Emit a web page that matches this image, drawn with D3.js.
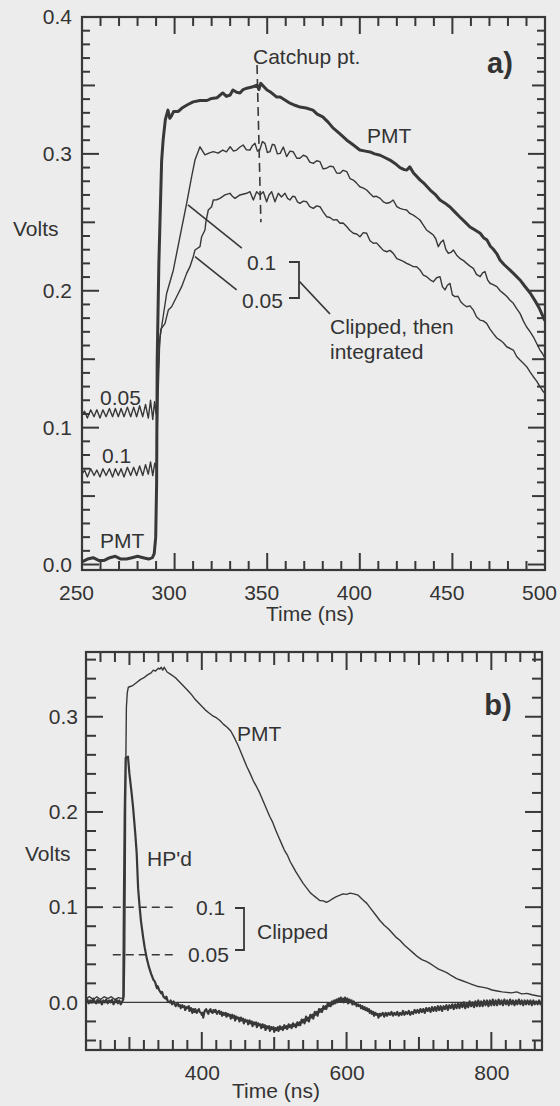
<!DOCTYPE html>
<html>
<head>
<meta charset="utf-8">
<script src="https://cdn.jsdelivr.net/npm/d3@7"></script>
<style>
  body { margin: 0; background: #ececec; }
  text { font-family: "Liberation Sans", Arial, Helvetica, sans-serif; fill: #333; }
</style>
</head>
<body>
<div id="wrapper"></div>
<script>
// panel a) : time (ns), volts
const pmtA = [[250,0.002],[253,0.004],[256,0.005],[259,0.003],[262,0.003],[265,0.005],[268,0.006],[271,0.004],[274,0.004],[277,0.005],[280,0.006],[283,0.005],[286,0.004],[288,0.005],[289,0.008],[289.8,0.02],[290.3,0.06],[290.6,0.149],[291.5,0.22],[293,0.295],[293.8,0.31],[295,0.325],[296.4,0.332],[297.4,0.326],[298.4,0.328],[299.5,0.331],[302,0.331],[304,0.3335],[306.7,0.3357],[310,0.338],[313.7,0.339],[317.5,0.339],[320,0.3405],[322.9,0.341],[326,0.3445],[328,0.342],[330,0.343],[331.5,0.3467],[333.5,0.345],[335.3,0.3445],[337,0.347],[339,0.348],[342.3,0.349],[344.5,0.3503],[345.5,0.347],[346.5,0.3515],[349.9,0.3467],[352,0.345],[355,0.3416],[357,0.3416],[360,0.339],[362.3,0.337],[365,0.3355],[367.7,0.3342],[371,0.3335],[374.7,0.332],[377,0.329],[380,0.327],[383,0.323],[385.5,0.319],[389,0.315],[393,0.31],[396,0.307],[400,0.3028],[403,0.302],[405.5,0.3014],[408,0.30],[411,0.299],[414,0.297],[416.3,0.2955],[419,0.293],[421.7,0.29],[424,0.2885],[425.4,0.2882],[427,0.2905],[429,0.286],[432.5,0.281],[435,0.278],[438,0.2736],[441,0.27],[443.3,0.2663],[446,0.264],[448.7,0.2612],[451,0.258],[454,0.2539],[457,0.25],[459.5,0.2466],[462,0.2445],[465,0.242],[467,0.2385],[468.7,0.237],[470.5,0.2325],[472,0.2305],[474,0.227],[475.7,0.2225],[478,0.219],[481,0.2152],[483.5,0.212],[486.5,0.2079],[489,0.2035],[492,0.1984],[494.5,0.193],[497,0.187],[500,0.178]]

const clip10A = [[250,0.066],[251.4,0.069],[252.9,0.064],[254.7,0.07],[256.5,0.065],[258,0.069],[259.7,0.064],[261.3,0.07],[263,0.065],[264.8,0.07],[266.5,0.064],[268,0.07],[269.6,0.065],[271.1,0.07],[272.7,0.064],[274.5,0.071],[276.3,0.065],[277.9,0.071],[279.5,0.065],[281.1,0.072],[282.8,0.065],[284.3,0.073],[285.8,0.066],[287,0.075],[288.2,0.065],[289.3,0.074],[290.2,0.07],[291,0.12],[292,0.165],[293,0.1737],[295.7,0.198],[299.3,0.215],[302.9,0.2395],[306.5,0.2639],[309.2,0.2833],[311,0.2955],[313.7,0.3052],[316.4,0.2992],[318.5,0.3005],[320.9,0.3016],[323.5,0.3005],[326,0.3028],[328,0.3015],[330,0.3052],[331.8,0.302],[333.5,0.3028],[335.3,0.305],[337,0.3065],[338.8,0.303],[340.7,0.3028],[342,0.306],[343.4,0.3077],[344.7,0.302],[346,0.3028],[347.4,0.309],[348.8,0.3077],[350.1,0.301],[351.5,0.3016],[352.8,0.307],[354,0.3065],[355.5,0.3],[357,0.3004],[358.7,0.305],[360.5,0.298],[362.3,0.302],[364,0.3016],[366,0.2968],[367.7,0.2968],[369.5,0.299],[371.3,0.298],[373,0.294],[374.9,0.2931],[376.7,0.295],[378.5,0.2943],[380.2,0.289],[382,0.2895],[384,0.291],[385.7,0.2906],[387.5,0.286],[389.3,0.2858],[391,0.288],[393,0.287],[394.7,0.282],[396.5,0.2809],[398,0.279],[400,0.276],[402,0.275],[403.7,0.2736],[405.5,0.271],[407.3,0.2687],[409,0.269],[411,0.2675],[412.7,0.265],[414.5,0.2639],[416.3,0.2645],[418,0.2663],[420,0.2615],[421.7,0.2602],[423.5,0.2595],[425.3,0.259],[427,0.2565],[428.9,0.2553],[430.7,0.2535],[432.5,0.2517],[434.3,0.248],[436,0.2444],[438,0.2425],[439.7,0.2407],[441,0.238],[442.4,0.2322],[443.8,0.2355],[445.1,0.237],[446.5,0.23],[447.8,0.2274],[449.2,0.228],[450.5,0.2298],[452.3,0.226],[454,0.2237],[456,0.222],[457.7,0.22],[459.5,0.218],[461.3,0.2164],[463,0.212],[465,0.2103],[466.3,0.213],[467.6,0.214],[469,0.208],[470.3,0.2055],[472,0.2045],[474,0.203],[475.8,0.2],[477.5,0.1981],[479.3,0.196],[481,0.1933],[482.9,0.1908],[484.7,0.187],[486.5,0.1835],[488.3,0.178],[490,0.1737],[492,0.17],[493.7,0.1664],[495.5,0.1615],[497.3,0.1567],[498.7,0.154],[500,0.1506]]

const clip05A = [[250,0.109],[251.4,0.112],[252.9,0.107],[254.7,0.113],[256.5,0.108],[258,0.113],[259.7,0.107],[261.3,0.113],[263,0.108],[264.8,0.114],[266.5,0.108],[268,0.114],[269.6,0.108],[271.1,0.114],[272.7,0.108],[274.5,0.115],[276.3,0.108],[277.9,0.115],[279.5,0.108],[281.1,0.116],[282.8,0.108],[284.3,0.117],[285.8,0.107],[287,0.12],[288.2,0.106],[289.2,0.119],[290,0.11],[290.8,0.13],[291.8,0.16],[292.6,0.172],[294.8,0.176],[296.6,0.1859],[298.4,0.1883],[301.1,0.1956],[303.8,0.203],[306.5,0.2127],[308.3,0.2176],[310.1,0.225],[311,0.2298],[313.7,0.2322],[314.6,0.2395],[316.4,0.2444],[316.9,0.2504],[318.2,0.259],[320,0.2614],[320.9,0.2663],[322.7,0.2665],[324.5,0.2675],[327.2,0.27],[329.9,0.2712],[331.2,0.269],[332.6,0.2675],[335.3,0.27],[338.9,0.2712],[340.7,0.2724],[342.5,0.2663],[344.3,0.2724],[346.1,0.27],[347.9,0.2724],[349.7,0.265],[351,0.27],[352.4,0.2724],[354.2,0.265],[356,0.2712],[357.7,0.2685],[359.6,0.2712],[361,0.2675],[362.3,0.2663],[363.7,0.269],[365,0.2687],[366.3,0.265],[367.7,0.2639],[369.5,0.2655],[371.3,0.265],[373,0.2615],[374.9,0.2602],[376.7,0.262],[378.5,0.2614],[380.3,0.2575],[382.1,0.2541],[383.9,0.2535],[385.7,0.2517],[387.5,0.252],[389.3,0.2493],[391,0.2495],[393,0.2468],[394.7,0.244],[396.5,0.242],[398.3,0.2415],[400.1,0.2395],[401.9,0.2425],[403.7,0.242],[405.5,0.2365],[407.3,0.2347],[409,0.235],[410.9,0.2322],[412.7,0.2295],[414.5,0.2285],[416.3,0.2295],[418.1,0.2273],[420,0.2235],[421.7,0.2225],[423.5,0.2215],[425.3,0.22],[427,0.219],[428.9,0.2176],[430.7,0.2175],[432.5,0.2152],[434.3,0.2115],[436.1,0.2103],[438,0.208],[439.7,0.2066],[441.5,0.2095],[443.3,0.2103],[444.6,0.203],[446,0.2006],[447.3,0.204],[448.7,0.2054],[450,0.197],[451.4,0.1957],[453,0.196],[454.5,0.192],[456,0.19],[457.7,0.1883],[459.5,0.189],[461.3,0.1859],[463,0.181],[464.9,0.1786],[466.7,0.178],[468.5,0.1762],[470.3,0.172],[472,0.1689],[474,0.1655],[475.7,0.164],[477.5,0.162],[479.3,0.1591],[481,0.158],[482.9,0.1567],[484.7,0.152],[486.5,0.1494],[488.3,0.147],[490.1,0.1445],[492,0.1405],[493.7,0.1372],[495.5,0.134],[497.3,0.1299],[498.7,0.127],[500,0.125]]

// catchup marker (time, volts)
const catchupA = [[344.5,0.365],[346.6,0.25]]

// panel b)
const pmtB = [[240,0.004],[245,0.006],[250,0.003],[255,0.006],[260,0.003],[265,0.006],[270,0.004],[275,0.006],[280,0.003],[285,0.005],[290,0.004],[292.5,0.006],[293.5,0.05],[294.3,0.15],[295,0.25],[295.8,0.31],[297,0.325],[298.5,0.331],[302,0.332],[305,0.333],[310,0.336],[315,0.339],[320,0.341],[325,0.344],[330,0.346],[333,0.349],[336,0.348],[340,0.351],[342,0.35],[344,0.352],[346,0.349],[348,0.352],[352,0.347],[356,0.345],[360,0.343],[365,0.34],[370,0.336],[375,0.332],[380,0.328],[385,0.324],[390,0.319],[395,0.315],[400,0.311],[405,0.307],[410,0.304],[415,0.301],[420,0.299],[425,0.296],[430,0.292],[435,0.289],[440,0.285],[445,0.278],[450,0.27],[456,0.259],[462,0.248],[467,0.24],[471,0.233],[476,0.226],[480,0.22],[485,0.211],[490,0.202],[494,0.195],[498,0.189],[502,0.181],[506,0.174],[510,0.167],[514,0.16],[518,0.155],[522,0.148],[526,0.1425],[530,0.137],[535,0.131],[540,0.125],[545,0.12],[550,0.115],[554,0.1126],[558,0.11],[563,0.107],[568,0.1066],[572,0.105],[577,0.107],[581,0.109],[586,0.111],[591,0.1126],[595,0.114],[600,0.1135],[605,0.1147],[610,0.114],[616,0.1126],[622,0.108],[628,0.104],[634,0.098],[640,0.092],[646,0.086],[652,0.081],[658,0.077],[664,0.072],[669,0.068],[674,0.065],[680,0.06],[686,0.056],[692,0.052],[698,0.048],[704,0.045],[710,0.043],[715,0.041],[721,0.038],[727,0.035],[733,0.033],[739,0.031],[745,0.028],[752,0.025],[759,0.023],[766,0.021],[773,0.019],[780,0.017],[787,0.016],[794,0.015],[801,0.013],[808,0.012],[815,0.011],[821,0.0105],[828,0.01],[835,0.011],[842,0.009],[849,0.0095],[856,0.008],[863,0.007],[870,0.006]]

const hpdB = [[240,0.001],[242,0.003],[244,-0.001],[246,0.002],[248,0.0],[250,0.004],[252,0.001],[254,-0.001],[256,0.003],[258,0.0],[260,0.002],[262,-0.002],[264,0.002],[266,0.0],[268,0.003],[270,-0.001],[272,0.002],[274,0.0],[276,0.003],[278,-0.002],[280,0.001],[282,0.003],[284,-0.001],[286,0.002],[288,-0.002],[290,0.001],[291.5,0.003],[292.3,0.1],[293.5,0.2],[294.8,0.257],[298,0.258],[300,0.24],[303,0.22],[305,0.205],[308,0.178],[310,0.157],[312,0.12],[314,0.101],[316,0.085],[319,0.068],[321,0.058],[324,0.046],[327,0.037],[330,0.03],[332,0.026],[333,0.024],[335,0.022],[336,0.02],[338,0.015],[339,0.017],[341,0.013],[344,0.0095],[345,0.011],[347,0.006],[350,0.004],[351,0.006],[353,0.001],[356,0.0],[357,0.002],[359,-0.002],[361,0.001],[362,-0.001],[364,-0.004],[365,-0.002],[367,-0.001],[368,-0.004],[370,-0.003],[371,-0.006],[373,-0.003],[374,-0.005],[376,-0.004],[377,-0.008],[379,-0.005],[380,-0.006],[382,-0.004],[383,-0.009],[385,-0.006],[386,-0.008],[387,-0.011],[388,-0.007],[390,-0.01],[391,-0.007],[393,-0.011],[394,-0.009],[396,-0.007],[397,-0.01],[399,-0.011],[400,-0.013],[401,-0.011],[402,-0.016],[403,-0.012],[404,-0.009],[406,-0.007],[407,-0.009],[409,-0.012],[410,-0.009],[412,-0.007],[413,-0.01],[415,-0.011],[416,-0.008],[418,-0.01],[419,-0.008],[421,-0.012],[422,-0.01],[424,-0.009],[425,-0.012],[427,-0.01],[428,-0.014],[430,-0.011],[431,-0.013],[433,-0.011],[434,-0.015],[436,-0.012],[437,-0.014],[439,-0.013],[440,-0.017],[442,-0.013],[443,-0.016],[445,-0.014],[446,-0.019],[448,-0.015],[449,-0.017],[451,-0.016],[452,-0.02],[454,-0.016],[455,-0.019],[457,-0.017],[458,-0.022],[460,-0.018],[461,-0.02],[463,-0.019],[464,-0.023],[466,-0.019],[467,-0.022],[469,-0.02],[470,-0.025],[472,-0.021],[473,-0.023],[475,-0.021],[476,-0.026],[478,-0.022],[479,-0.024],[481,-0.023],[482,-0.027],[484,-0.023],[485,-0.026],[487,-0.024],[488,-0.029],[490,-0.025],[491,-0.027],[493,-0.025],[494,-0.03],[496,-0.026],[497,-0.028],[499,-0.026],[500,-0.031],[502,-0.027],[503,-0.029],[505,-0.026],[506,-0.03],[508,-0.025],[509,-0.028],[511,-0.026],[512,-0.029],[514,-0.024],[515,-0.027],[517,-0.025],[518,-0.028],[520,-0.023],[521,-0.026],[523,-0.024],[524,-0.027],[526,-0.022],[527,-0.025],[529,-0.023],[530,-0.026],[532,-0.021],[533,-0.024],[535,-0.021],[536,-0.024],[538,-0.018],[539,-0.021],[541,-0.018],[542,-0.022],[544,-0.015],[545,-0.019],[547,-0.016],[548,-0.02],[550,-0.013],[551,-0.016],[553,-0.013],[554,-0.017],[556,-0.01],[557,-0.013],[559,-0.01],[560,-0.014],[562,-0.007],[563,-0.01],[565,-0.007],[566,-0.01],[568,-0.004],[569,-0.007],[571,-0.004],[572,-0.007],[574,-0.001],[575,-0.004],[577,-0.001],[578,-0.004],[580,0.001],[581,-0.002],[583,0.002],[584,-0.001],[586,0.003],[587,0.0],[589,0.004],[590,0.001],[592,0.005],[593,0.001],[595,0.004],[596,0.0],[598,0.005],[599,0.001],[601,0.004],[602,-0.001],[604,0.003],[605,0.0],[607,0.002],[608,-0.002],[610,0.001],[611,-0.002],[613,-0.001],[614,-0.004],[616,-0.002],[617,-0.004],[619,-0.003],[620,-0.006],[622,-0.004],[623,-0.007],[625,-0.005],[626,-0.008],[628,-0.006],[629,-0.009],[631,-0.007],[632,-0.011],[634,-0.009],[635,-0.012],[637,-0.01],[638,-0.014],[640,-0.011],[641,-0.013],[643,-0.012],[644,-0.016],[646,-0.012],[647,-0.014],[650,-0.011],[652,-0.015],[654,-0.011],[656,-0.014],[658,-0.011],[660,-0.013],[662,-0.01],[664,-0.014],[666,-0.011],[668,-0.013],[670,-0.01],[672,-0.014],[674,-0.011],[676,-0.013],[678,-0.009],[680,-0.013],[682,-0.01],[684,-0.012],[686,-0.009],[688,-0.013],[690,-0.01],[692,-0.012],[694,-0.008],[696,-0.011],[698,-0.008],[700,-0.011],[702,-0.007],[704,-0.01],[706,-0.007],[708,-0.011],[710,-0.006],[712,-0.009],[714,-0.006],[716,-0.01],[718,-0.005],[720,-0.009],[722,-0.005],[724,-0.009],[726,-0.004],[728,-0.008],[730,-0.004],[732,-0.009],[734,-0.004],[736,-0.007],[738,-0.003],[740,-0.008],[742,-0.003],[744,-0.006],[746,-0.002],[748,-0.007],[750,-0.002],[752,-0.006],[754,-0.001],[756,-0.006],[758,-0.001],[760,-0.005],[762,0.0],[764,-0.006],[766,-0.001],[768,-0.005],[770,0.001],[772,-0.004],[774,0.0],[776,-0.005],[778,0.001],[780,-0.004],[782,0.002],[784,-0.004],[786,0.001],[788,-0.004],[790,0.002],[792,-0.003],[794,0.002],[796,-0.004],[798,0.002],[800,-0.003],[802,0.003],[804,-0.003],[806,0.002],[808,-0.003],[810,0.003],[812,-0.002],[814,0.002],[816,-0.003],[818,0.003],[820,-0.002],[822,0.002],[824,-0.003],[826,0.003],[828,-0.002],[830,0.002],[832,-0.003],[834,0.002],[836,-0.002],[838,0.003],[840,-0.002],[842,0.002],[844,-0.003],[846,0.002],[848,-0.002],[850,0.002],[852,-0.002],[854,0.002],[856,-0.003],[858,0.002],[860,-0.002],[862,0.001],[864,-0.002],[866,0.002],[868,-0.002],[870,0.0]]

const clipLevelsB = [0.1, 0.05]
const clipLabelsB = ['0.1', '0.05']

const aXLabels = [250, 300, 350, 400, 450, 500]
const aYLabels = [0, 0.1, 0.2, 0.3, 0.4]
const bXLabels = [400, 600, 800]
const bYLabels = [0, 0.1, 0.2, 0.3]

const ink = '#383838'

const width = 560
const height = 1106

const svg = d3.select('#wrapper')
  .append('svg')
    .attr('width', width)
    .attr('height', height)

svg.append('rect')
  .attr('width', width)
  .attr('height', height)
  .attr('fill', '#ececec')

//dimensions for the two panels
const dimA = {left: 82, top: 17, width: 463, height: 553}
const dimB = {left: 86, top: 652, width: 456, height: 398}

const xA = d3.scaleLinear().domain([250, 500]).range([0, dimA.width])
const yA = d3.scaleLinear().domain([-0.004, 0.4]).range([dimA.height, 0])
const xB = d3.scaleLinear().domain([240, 870]).range([0, dimB.width])
const yB = d3.scaleLinear().domain([-0.05, 0.368]).range([dimB.height, 0])

const near = (v, step) => Math.abs(v / step - Math.round(v / step)) < 1e-6

const gA = svg.append('g').attr('transform', `translate(${dimA.left},${dimA.top})`)
const gB = svg.append('g').attr('transform', `translate(${dimB.left},${dimB.top})`)

// ticks on all four sides, pointing into the box
function tickSet(g, scale, values, len, dim, horizontal) {
  const t = g.append('g')
  const mk = (cls) => t.selectAll('line.' + cls)
    .data(values)
    .join('line')
      .attr('class', cls)
      .attr('stroke', ink)
      .attr('stroke-width', 2)
  if (horizontal) {
    mk('top').attr('x1', d => scale(d)).attr('x2', d => scale(d)).attr('y1', 0).attr('y2', len)
    mk('bot').attr('x1', d => scale(d)).attr('x2', d => scale(d)).attr('y1', dim.height).attr('y2', dim.height - len)
  } else {
    mk('lft').attr('y1', d => scale(d)).attr('y2', d => scale(d)).attr('x1', 0).attr('x2', len)
    mk('rgt').attr('y1', d => scale(d)).attr('y2', d => scale(d)).attr('x1', dim.width).attr('x2', dim.width - len)
  }
}

function drawFrame(g, dim, xScale, yScale, xt, yt) {
  xt.forEach(([vals, len]) => tickSet(g, xScale, vals, len, dim, true))
  yt.forEach(([vals, len]) => tickSet(g, yScale, vals, len, dim, false))
  g.append('rect')
    .attr('width', dim.width)
    .attr('height', dim.height)
    .attr('fill', 'none')
    .attr('stroke', ink)
    .attr('stroke-width', 2.2)
}

function labelAxes(g, dim, xScale, yScale, xVals, yVals, xdx, xdy, ypad) {
  const xAxis = g.append('g')
    .attr('transform', `translate(0,${dim.height})`)
    .call(d3.axisBottom(xScale).tickValues(xVals).tickSize(0).tickPadding(xdy).tickFormat(d3.format('d')))
  xAxis.select('.domain').remove()
  xAxis.selectAll('line').remove()
  xAxis.selectAll('text')
    .attr('dx', xdx)
    .style('font-size', '21px')
    .style('font-family', '"Liberation Sans", Arial, sans-serif')
    .attr('fill', '#333')

  const yAxis = g.append('g')
    .call(d3.axisLeft(yScale).tickValues(yVals).tickSize(0).tickPadding(ypad).tickFormat(d3.format('.1f')))
  yAxis.select('.domain').remove()
  yAxis.selectAll('line').remove()
  yAxis.selectAll('text')
    .style('font-size', '21px')
    .style('font-family', '"Liberation Sans", Arial, sans-serif')
    .attr('fill', '#333')
}

function txt(g, x, y, s, opts = {}) {
  return g.append('text')
    .attr('x', x)
    .attr('y', y)
    .attr('dominant-baseline', 'central')
    .attr('text-anchor', opts.anchor || 'start')
    .style('font-size', (opts.size || 21) + 'px')
    .style('font-weight', opts.bold ? 'bold' : 'normal')
    .text(s)
}

function drawLine(g, data, xScale, yScale, w) {
  const line = d3.line()
    .x(d => xScale(d[0]))
    .y(d => yScale(d[1]))
  g.append('path')
    .datum(data)
    .attr('d', line)
    .attr('fill', 'none')
    .attr('stroke', ink)
    .attr('stroke-width', w)
    .attr('stroke-linejoin', 'round')
}

// ---------- panel a ----------
drawLine(gA, clip05A, xA, yA, 1.4)
drawLine(gA, clip10A, xA, yA, 1.4)
drawLine(gA, pmtA, xA, yA, 3)

gA.append('line')
  .attr('x1', xA(catchupA[0][0])).attr('y1', yA(catchupA[0][1]))
  .attr('x2', xA(catchupA[1][0])).attr('y2', yA(catchupA[1][1]))
  .attr('stroke', ink).attr('stroke-width', 1.6)
  .attr('stroke-dasharray', '9,5')

// leader lines, in data units
const leadersA = [[[307.2, 0.2627], [336.3, 0.2312]], [[311, 0.2249], [333.5, 0.2006]]]
leadersA.forEach(l => {
  gA.append('line')
    .attr('x1', xA(l[0][0])).attr('y1', yA(l[0][1]))
    .attr('x2', xA(l[1][0])).attr('y2', yA(l[1][1]))
    .attr('stroke', ink).attr('stroke-width', 1.6)
})

const aXAll = xA.ticks(25)
const aYAll = yA.ticks(40).filter(d => d >= 0)
drawFrame(gA, dimA, xA, yA,
  [[aXAll.filter(d => !near(d, 50)), 9], [aXAll.filter(d => near(d, 50)), 17]],
  [[aYAll.filter(d => !near(d, 0.05)), 8], [aYAll.filter(d => near(d, 0.05) && !near(d, 0.1)), 13], [aYAll.filter(d => near(d, 0.1)), 17]])
labelAxes(gA, dimA, xA, yA, aXLabels, aYLabels, -6, 15, 10)

txt(svg, 253, 56, 'Catchup pt.')
txt(svg, 500, 63, 'a)', {size: 29, bold: true, anchor: 'middle'})
txt(svg, 367, 135, 'PMT')
txt(svg, 247, 262, '0.1')
txt(svg, 242, 300, '0.05')
// bracket
svg.append('path')
  .attr('d', 'M289,262 H299 V298 H289 M299,281 L330,314')
  .attr('fill', 'none').attr('stroke', ink).attr('stroke-width', 1.8)
txt(svg, 330, 326, 'Clipped, then')
txt(svg, 330, 351, 'integrated')
txt(svg, 100, 397, '0.05')
txt(svg, 102, 455, '0.1')
txt(svg, 100, 540, 'PMT')
txt(svg, 13, 228, 'Volts')
txt(svg, 310, 613, 'Time (ns)', {anchor: 'middle'})

// ---------- panel b ----------
// zero line
gB.append('line')
  .attr('x1', 0).attr('x2', dimB.width)
  .attr('y1', yB(0)).attr('y2', yB(0))
  .attr('stroke', ink).attr('stroke-width', 1.3)

drawLine(gB, pmtB, xB, yB, 1.4)
drawLine(gB, hpdB, xB, yB, 2.2)

clipLevelsB.forEach((v, i) => {
  gB.append('line')
    .attr('x1', xB(277)).attr('x2', xB(i === 0 ? 363 : 365))
    .attr('y1', yB(v)).attr('y2', yB(v))
    .attr('stroke', ink).attr('stroke-width', 1.5)
    .attr('stroke-dasharray', '8,5')
  txt(gB, xB(i === 0 ? 392 : 381), yB(v), clipLabelsB[i])
})

const bXAll = xB.ticks(30).filter(d => near(d, 20))
const bYAll = yB.ticks(20)
drawFrame(gB, dimB, xB, yB,
  [[bXAll.filter(d => !near(d, 100)), 10], [bXAll.filter(d => near(d, 100) && !near(d, 200)), 13], [bXAll.filter(d => near(d, 200)), 18]],
  [[bYAll.filter(d => !near(d, 0.1)), 10], [bYAll.filter(d => near(d, 0.1)), 17]])
labelAxes(gB, dimB, xB, yB, bXLabels, bYLabels, 0, 15, 8)

svg.append('path')
  .attr('d', 'M235,908 H244 V950 H235')
  .attr('fill', 'none').attr('stroke', ink).attr('stroke-width', 1.8)
txt(svg, 257, 931, 'Clipped')
txt(svg, 147, 858, "HP'd")
txt(svg, 237, 733, 'PMT')
txt(svg, 498, 705, 'b)', {size: 29, bold: true, anchor: 'middle'})
txt(svg, 25, 853, 'Volts')
txt(svg, 276, 1090, 'Time (ns)', {anchor: 'middle'})
</script>
</body>
</html>
